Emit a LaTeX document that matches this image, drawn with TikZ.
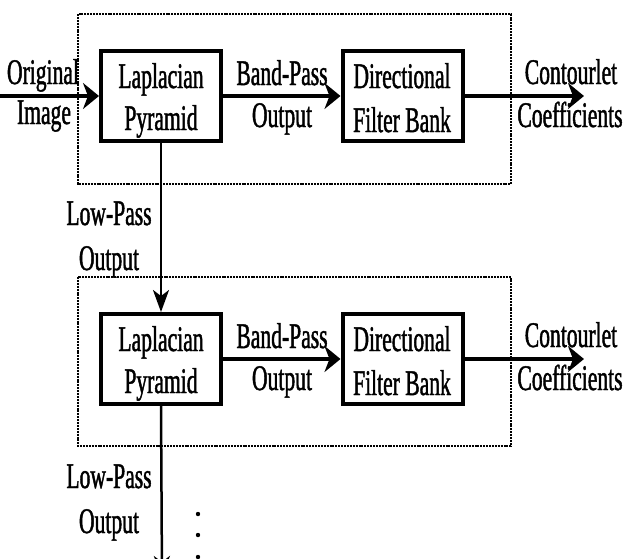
\documentclass[tikz,border=0pt]{standalone}
\usepackage{fontspec}
\setmainfont[FakeStretch=0.6,FakeBold=1.2]{Liberation Serif}
\usetikzlibrary{arrows.meta}
\tikzset{
  blk/.style={draw, line width=4pt, minimum width=120pt, minimum height=90pt, inner sep=0pt},
  lbl/.style={anchor=base, inner sep=0pt, font=\fontsize{36}{40}\selectfont},
  harrow/.style={line width=4.5pt, -{Stealth[length=16pt,width=26pt,inset=5pt]}},
  varrow/.style={line width=2.5pt, -{Stealth[length=22pt,width=16pt,inset=6pt]}},
  frame/.style={line width=2.8pt, dash pattern=on 2pt off 0.9pt}
}
\begin{document}
\begin{tikzpicture}[x=1pt,y=-1pt]
\clip (0,0) rectangle (624,558);
\fill[white] (0,0) rectangle (624,558);
% frames
\draw[frame] (78,14) rectangle (511,184);
\draw[frame] (78,277) rectangle (511,446);
% boxes
\node[blk] (lp1) at (161,96) {};
\node[blk] (dfb1) at (402.5,96) {};
\node[blk] (lp2) at (161,359) {};
\node[blk] (dfb2) at (402.5,359) {};
% coordinates
\coordinate (in) at (0,96);
\coordinate (out1) at (584,96);
\coordinate (out2) at (584,359);
\coordinate (down) at (162,578);
% arrows
\draw[harrow] (in) -- (lp1.west);
\draw[harrow] (lp1.east) -- (dfb1.west);
\draw[harrow] (dfb1.east) -- (out1);
\draw[harrow] (lp2.east) -- (dfb2.west);
\draw[harrow] (dfb2.east) -- (out2);
\draw[varrow] (lp1.south) -- (lp2.north);
\draw[varrow] (lp2.south) -- (down);
% texts row 1
\node[lbl] (t1a) at (43,84) {Original};
\node[lbl] (t1b) at (44,124) {Image};
\node[lbl] (t2a) at (161,88) {Laplacian};
\node[lbl] (t2b) at (161,130) {Pyramid};
\node[lbl] (t3a) at (282,85) {Band-Pass};
\node[lbl] (t3b) at (282,127) {Output};
\node[lbl] (t4a) at (402,88) {Directional};
\node[lbl] (t4b) at (402,132) {Filter Bank};
\node[lbl] (t5a) at (571,84) {Contourlet};
\node[lbl] (t5b) at (570,127) {Coefficients};
% low pass 1
\node[lbl] (t6a) at (109,225) {Low-Pass};
\node[lbl] (t6b) at (109,270) {Output};
% texts row 2
\node[lbl] (u2a) at (161,351) {Laplacian};
\node[lbl] (u2b) at (161,393) {Pyramid};
\node[lbl] (u3a) at (282,348) {Band-Pass};
\node[lbl] (u3b) at (282,390) {Output};
\node[lbl] (u4a) at (402,351) {Directional};
\node[lbl] (u4b) at (402,395) {Filter Bank};
\node[lbl] (u5a) at (571,347) {Contourlet};
\node[lbl] (u5b) at (570,390) {Coefficients};
% low pass 2
\node[lbl] (u6a) at (109,488) {Low-Pass};
\node[lbl] (u6b) at (109,533) {Output};
% dots
\fill (198,514) circle (2.2pt);
\fill (198,535) circle (2.2pt);
\fill (198,557) circle (2.2pt);
\end{tikzpicture}
\end{document}
